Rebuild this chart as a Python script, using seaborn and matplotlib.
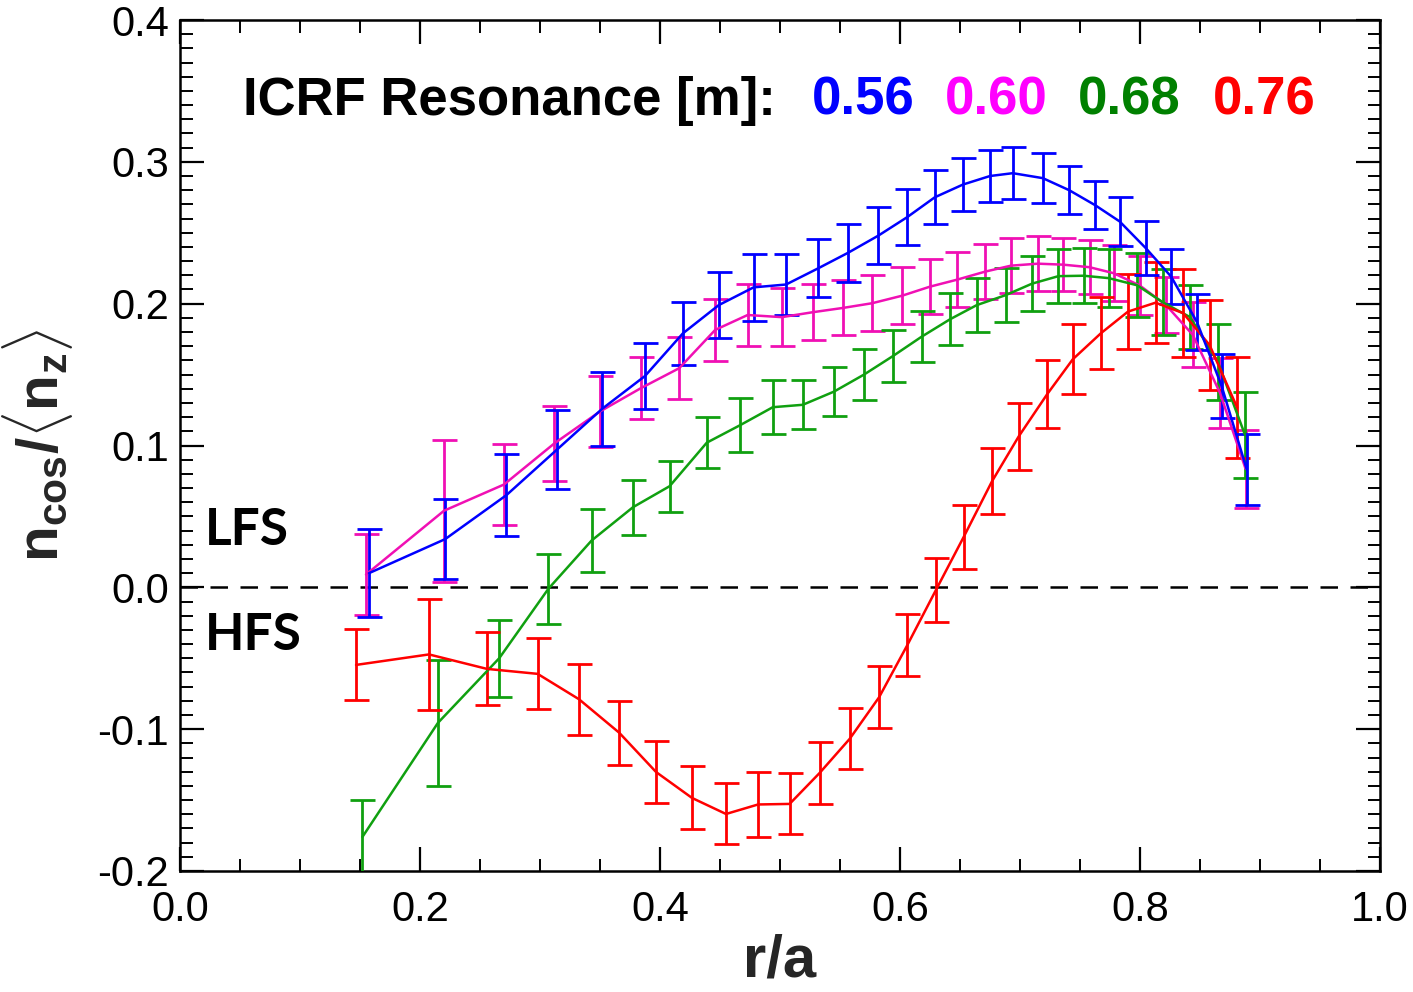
import numpy as np
import pandas as pd
import matplotlib
matplotlib.use("Agg")
import matplotlib.pyplot as plt
from matplotlib.ticker import MultipleLocator, FormatStrFormatter
import seaborn as sns

# ---------------- data ----------------
res_labels = ["0.56", "0.60", "0.68", "0.76"]

x_056 = [0.1575, 0.221, 0.272, 0.314, 0.352, 0.3875, 0.419, 0.449, 0.478, 0.505, 0.532, 0.557, 0.582, 0.606,
         0.629, 0.6525, 0.675, 0.694, 0.719, 0.741, 0.7625, 0.783, 0.805, 0.826, 0.8475, 0.868, 0.889]
y_056 = [0.010, 0.034, 0.065, 0.097, 0.126, 0.149, 0.179, 0.199, 0.2115, 0.2135, 0.225, 0.236, 0.248, 0.261,
         0.275, 0.284, 0.290, 0.292, 0.2885, 0.280, 0.2695, 0.258, 0.239, 0.219, 0.187, 0.142, 0.083]
e_056 = [0.031, 0.028, 0.029, 0.028, 0.026, 0.0235, 0.022, 0.023, 0.0235, 0.0215, 0.0205, 0.0205, 0.020, 0.0195,
         0.019, 0.019, 0.018, 0.0185, 0.0175, 0.017, 0.017, 0.0175, 0.019, 0.0195, 0.020, 0.0225, 0.025]

x_060 = [0.155, 0.22, 0.27, 0.312, 0.35, 0.384, 0.416, 0.446, 0.473, 0.5015, 0.5275, 0.5525, 0.5767, 0.6017,
         0.625, 0.6475, 0.671, 0.6925, 0.715, 0.736, 0.758, 0.778, 0.80, 0.8217, 0.844, 0.8667, 0.888]
y_060 = [0.009, 0.054, 0.0725, 0.1015, 0.124, 0.1404, 0.1545, 0.1815, 0.192, 0.1905, 0.194, 0.197, 0.2003, 0.2056,
         0.212, 0.2169, 0.2226, 0.2268, 0.2282, 0.2275, 0.2257, 0.2215, 0.2127, 0.199, 0.178, 0.137, 0.0835]
e_060 = [0.0285, 0.050, 0.0285, 0.0265, 0.025, 0.022, 0.022, 0.0216, 0.022, 0.0205, 0.0198, 0.0194, 0.0197, 0.0201,
         0.0194, 0.0194, 0.0194, 0.0194, 0.0194, 0.0187, 0.019, 0.0198, 0.0208, 0.0198, 0.023, 0.025, 0.0277]

x_068 = [0.152, 0.215, 0.266, 0.307, 0.343, 0.3775, 0.408, 0.439, 0.4667, 0.494, 0.519, 0.545, 0.570, 0.594,
         0.618, 0.6417, 0.664, 0.688, 0.71, 0.732, 0.753, 0.774, 0.7975, 0.819, 0.8417, 0.865, 0.8875]
y_068 = [-0.176, -0.0955, -0.050, -0.001, 0.033, 0.0565, 0.0713, 0.102, 0.1143, 0.127, 0.1287, 0.138, 0.150, 0.163,
         0.1767, 0.189, 0.199, 0.206, 0.2141, 0.2194, 0.2197, 0.218, 0.213, 0.201, 0.1905, 0.1587, 0.1075]
e_068 = [0.026, 0.0445, 0.0272, 0.0247, 0.0225, 0.0195, 0.018, 0.018, 0.019, 0.019, 0.0173, 0.0172, 0.0177, 0.0183,
         0.018, 0.0183, 0.019, 0.019, 0.0194, 0.019, 0.0195, 0.0205, 0.0225, 0.0233, 0.0225, 0.0267, 0.0305]

x_076 = [0.1467, 0.2075, 0.2558, 0.298, 0.3325, 0.366, 0.3967, 0.4267, 0.455, 0.4817, 0.508, 0.533, 0.558, 0.5825,
         0.606, 0.63, 0.653, 0.6767, 0.699, 0.7225, 0.744, 0.7675, 0.79, 0.813, 0.836, 0.858, 0.881]
y_076 = [-0.0547, -0.0473, -0.0575, -0.061, -0.0789, -0.1025, -0.1302, -0.1485, -0.1598, -0.1531, -0.1527, -0.1309,
         -0.1069, -0.0776, -0.0409, -0.0018, 0.0354, 0.0748, 0.1065, 0.136, 0.1608, 0.1792, 0.1944, 0.2007, 0.1933,
         0.1708, 0.1267]
e_076 = [0.025, 0.039, 0.0258, 0.025, 0.025, 0.0225, 0.0216, 0.0222, 0.0215, 0.0226, 0.0215, 0.0216, 0.0215, 0.0219,
         0.0219, 0.0223, 0.0227, 0.0233, 0.0235, 0.024, 0.0248, 0.0254, 0.0264, 0.0286, 0.031, 0.0318, 0.0357]

series = [
    (res_labels[0], x_056, y_056, e_056),
    (res_labels[1], x_060, y_060, e_060),
    (res_labels[2], x_068, y_068, e_068),
    (res_labels[3], x_076, y_076, e_076),
]

line_colors = {"0.56": "#0000FF", "0.60": "#F010B4", "0.68": "#10A010", "0.76": "#FF0000"}
text_colors = {"0.56": "#0000FF", "0.60": "#FF00FF", "0.68": "#008000", "0.76": "#FF0000"}

# ---------------- style ----------------
sns.set_theme(style="ticks")
plt.rcParams["font.family"] = ["Liberation Sans", "DejaVu Sans"]
plt.rcParams["axes.unicode_minus"] = False
plt.rcParams["mathtext.fontset"] = "custom"
plt.rcParams["mathtext.rm"] = "Liberation Sans"
plt.rcParams["mathtext.it"] = "Liberation Sans:italic"
plt.rcParams["mathtext.bf"] = "Liberation Sans:bold"

fig = plt.figure(figsize=(14.13, 9.92), dpi=100)
ax = fig.add_axes([180 / 1413, 1 - 871 / 992, 1200 / 1413, 851 / 992])

frames = []
for lab, xs, ys, es in series:
    frames.append(pd.DataFrame({"r": xs, "v": ys, "e": es, "res": lab}))
df = pd.concat(frames, ignore_index=True)

order = ["0.60", "0.68", "0.76", "0.56"]
for lab in order:
    d = df[df["res"] == lab]
    c = line_colors[lab]
    ax.errorbar(d["r"], d["v"], yerr=d["e"], fmt="none", ecolor=c, elinewidth=2.0,
                capsize=9, capthick=2.0, zorder=3)
    sns.lineplot(data=d, x="r", y="v", color=c, linewidth=1.8, ax=ax, sort=False,
                 estimator=None, legend=False, zorder=4)

ax.axhline(0.0, color="black", linestyle=(0, (7, 5)), linewidth=1.8, zorder=2)

# ---------------- axes ----------------
ax.set_xlim(0.0, 1.0)
ax.set_ylim(-0.2, 0.4)
ax.xaxis.set_major_locator(MultipleLocator(0.2))
ax.xaxis.set_minor_locator(MultipleLocator(0.05))
ax.yaxis.set_major_locator(MultipleLocator(0.1))
ax.yaxis.set_minor_locator(MultipleLocator(0.01))
ax.xaxis.set_major_formatter(FormatStrFormatter("%.1f"))
ax.yaxis.set_major_formatter(FormatStrFormatter("%.1f"))

ax.tick_params(which="both", direction="in", top=True, right=True, colors="black")
ax.tick_params(which="major", length=17, width=1.6, labelsize=30)
ax.tick_params(which="minor", length=9, width=1.4)
ax.tick_params(axis="x", which="major", pad=14)
ax.tick_params(axis="y", which="major", pad=8)
for sp in ax.spines.values():
    sp.set_linewidth(1.8)
    sp.set_color("black")
    sp.set_visible(True)

ax.set_xlabel("r/a", fontsize=43, fontweight="bold", labelpad=2)
ax.set_ylabel(r"$\mathbf{n}_{\mathbf{cos}}\mathbf{/}\langle\mathbf{n}_{\mathbf{z}}\rangle$",
              fontsize=42, labelpad=16)

# ---------------- annotations ----------------
ax.text(0.0525, 0.343, "ICRF Resonance [m]:", fontsize=38, fontweight="bold",
        ha="left", va="center", color="black")
val_x = [0.5267, 0.6375, 0.7483, 0.8608]
for lab, xv in zip(res_labels, val_x):
    ax.text(xv, 0.343, lab, fontsize=38, fontweight="bold", ha="left", va="center",
            color=text_colors[lab])

ax.text(0.021, 0.040, "LFS", fontsize=37, fontweight="bold", family=["Lato", "DejaVu Sans"],
        ha="left", va="center", color="black")
ax.text(0.021, -0.034, "HFS", fontsize=37, fontweight="bold", family=["Lato", "DejaVu Sans"],
        ha="left", va="center", color="black")

fig.savefig("out.png", dpi=100)
